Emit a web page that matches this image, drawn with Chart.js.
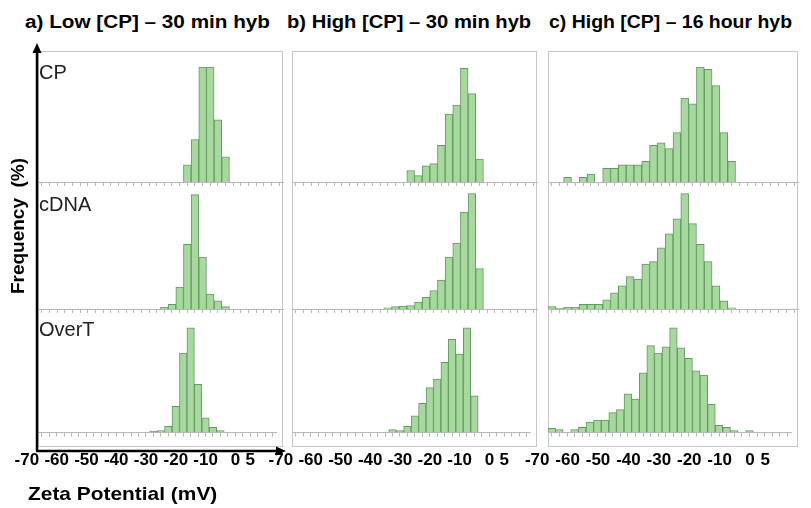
<!DOCTYPE html>
<html lang="en">
<head>
  <meta charset="UTF-8">
  <meta name="viewport" content="width=device-width, initial-scale=1.0">
  <title>Zeta Potential Histograms</title>
  <script src="https://cdn.jsdelivr.net/npm/chart.js"></script>
  <style>
    body {
      margin: 0;
      background-color: #fff;
      font-family: "Liberation Sans", Arial, sans-serif;
    }

    #wrap {
      position: relative;
      width: 811px;
      height: 508px;
      overflow: hidden;
    }

    .title {
      position: absolute;
      top: 12px;
      font-size: 18px;
      font-weight: bold;
      white-space: nowrap;
      transform-origin: left top;
    }

    .frame {
      position: absolute;
      top: 51px;
      height: 396px;
      border: 1px solid #c8c8c8;
      box-sizing: border-box;
    }

    canvas {
      position: absolute;
    }

    .row-label {
      position: absolute;
      left: 39px;
      font-size: 20px;
      color: #222;
      white-space: nowrap;
    }

    #ylabel {
      position: absolute;
      left: 18px;
      top: 226px;
      font-size: 19px;
      font-weight: bold;
      white-space: nowrap;
      transform: translate(-50%, -50%) rotate(-90deg);
    }

    #xlabel {
      position: absolute;
      left: 28px;
      top: 483px;
      font-size: 19px;
      font-weight: bold;
      white-space: nowrap;
      transform-origin: left top;
      transform: scaleX(1.1);
    }

    svg {
      position: absolute;
      left: 0;
      top: 0;
    }
  </style>
</head>
<body>
  <div id="wrap">
    <div class="title" style="left:25px; transform:scaleX(1.15)">a) Low [CP] – 30 min hyb</div>
    <div class="title" style="left:287px; transform:scaleX(1.12)">b) High [CP] – 30 min hyb</div>
    <div class="title" style="left:549px; transform:scaleX(1.08)">c) High [CP] – 16 hour hyb</div>

    <div class="frame" style="left:38px; width:245px"></div>
    <div class="frame" style="left:292px; width:245px"></div>
    <div class="frame" style="left:548px; width:250px"></div>

    <div id="charts"></div>

    <div class="row-label" style="top:61px">CP</div>
    <div class="row-label" style="top:193px">cDNA</div>
    <div class="row-label" style="top:318px">OverT</div>

    <div id="ylabel">Frequency&nbsp; (%)</div>
    <div id="xlabel">Zeta Potential (mV)</div>

    <!-- axis arrows -->
    <svg width="811" height="508">
      <line x1="37" y1="451" x2="37" y2="52" stroke="#000" stroke-width="2.5"/>
      <polygon points="37,43 32.5,53 41.5,53" fill="#000"/>
      <line x1="36" y1="451" x2="276" y2="451" stroke="#000" stroke-width="2.5"/>
      <polygon points="286,451 276,446.5 276,455.5" fill="#000"/>
    </svg>
  </div>

  <script>
    // bin centres, 2.5 mV bins from -75 to 5 mV
    const binCenters = [
      -73.75, -71.25, -68.75, -66.25, -63.75, -61.25, -58.75, -56.25, -53.75, -51.25,
      -48.75, -46.25, -43.75, -41.25, -38.75, -36.25, -33.75, -31.25, -28.75, -26.25,
      -23.75, -21.25, -18.75, -16.25, -13.75, -11.25, -8.75, -6.25, -3.75, -1.25,
      1.25, 3.75
    ];

    // a) Low [CP] - 30 min hyb (frequency, % of peak bin)
    const aCP = [
      0, 0, 0, 0, 0, 0, 0, 0, 0, 0,
      0, 0, 0, 0, 0, 0, 0, 0, 0, 15,
      37, 100, 100, 54, 22, 0, 0, 0, 0, 0,
      0, 0
    ];
    const aCDNA = [
      0, 0, 0, 0, 0, 0, 0, 0, 0, 0,
      0, 0, 0, 0, 0, 0, 1.5, 4, 19, 56,
      99, 45, 13, 7, 2, 0, 0, 0, 0, 0,
      0, 0
    ];
    const aOverT = [
      0, 0, 0, 0, 0, 0, 0, 0, 0, 0,
      0, 0, 0, 0, 0, 1.5, 2, 6, 25, 76,
      100, 46, 14, 5, 2, 0, 0, 0, 0, 0,
      0, 0
    ];

    // b) High [CP] - 30 min hyb
    const bCP = [
      0, 0, 0, 0, 0, 0, 0, 0, 0, 0,
      0, 0, 0, 0, 0, 10, 5.5, 14, 16, 32,
      59, 67, 99, 77, 20, 0, 0, 0, 0, 0,
      0, 0
    ];
    const bCDNA = [
      0, 0, 0, 0, 0, 0, 0, 0, 0, 0,
      0, 0, 1, 2, 2.5, 3, 6, 10, 16, 25,
      45, 57, 84, 100, 35, 0, 0, 0, 0, 0,
      0, 0
    ];
    const bOverT = [
      0, 0, 0, 0, 0, 0, 0, 0, 0, 0,
      0, 0, 0, 3, 2, 6, 16, 28, 43, 51,
      67, 89, 75, 100, 35, 0, 0, 0, 0, 0,
      0, 0
    ];

    // c) High [CP] - 16 hour hyb
    const cCP = [
      0, 0, 4, 0, 4, 7, 0, 12, 12, 15,
      15, 15, 18, 32, 34, 29, 43, 73, 68, 100,
      98, 84, 43, 18, 0, 0, 0, 0, 0, 0,
      0, 0
    ];
    const cCDNA = [
      2, 0.6, 1.5, 1.5, 4, 4, 4, 8, 14, 20,
      28, 26, 39, 41, 53, 65, 78, 100, 74, 56,
      41, 20, 7, 1, 0, 0, 0, 0, 0, 0,
      0, 0
    ];
    const cOverT = [
      4, 3, 0, 3, 5, 10, 12, 12, 19, 22,
      37, 32, 57, 83, 76, 82, 100, 81, 71, 59,
      55, 27, 7, 5, 2, 0, 2, 0, 0, 0,
      0, 0
    ];

    // x tick labels shown under the bottom row
    const tickLabels = [-70, -60, -50, -40, -30, -20, -10, 0, 5];

    // panel layout
    const columns = [
      { left: 38, width: 245, series: [aCP, aCDNA, aOverT] },
      { left: 292, width: 245, series: [bCP, bCDNA, bOverT] },
      { left: 548, width: 250, series: [cCP, cCDNA, cOverT] }
    ];
    const rows = [
      { top: 51, height: 131, yMax: 114 },
      { top: 182, height: 127, yMax: 110 },
      { top: 309, height: 137, yMax: 118 }
    ];

    const padLeft = 25;
    const padRight = 12;
    const holder = document.getElementById("charts");

    columns.forEach((col) => {
      rows.forEach((row, r) => {
        const last = r === rows.length - 1;
        const canvas = document.createElement("canvas");
        canvas.width = col.width + padLeft + padRight;
        canvas.height = row.height + (last ? 39 : 4);
        canvas.style.left = (col.left - padLeft) + "px";
        canvas.style.top = row.top + "px";
        holder.appendChild(canvas);

        const values = col.series[r];

        new Chart(canvas, {
          type: "bar",
          data: {
            datasets: [{
              data: binCenters.map((x, i) => ({ x: x, y: values[i] })),
              backgroundColor: "#a7d99f",
              borderColor: "#649862",
              borderWidth: 1,
              barPercentage: 1,
              categoryPercentage: 1
            }]
          },
          options: {
            responsive: false,
            animation: false,
            events: [],
            layout: { padding: { left: padLeft, right: padRight, top: 0, bottom: 0 } },
            plugins: {
              legend: { display: false },
              tooltip: { enabled: false }
            },
            scales: {
              x: {
                type: "linear",
                min: -75,
                max: 5,
                offset: false,
                grid: {
                  drawOnChartArea: false,
                  drawTicks: true,
                  tickLength: 4,
                  color: "#b8b8b8"
                },
                border: { color: "#b8b8b8", width: 1 },
                ticks: {
                  display: last,
                  stepSize: 2.5,
                  autoSkip: false,
                  maxRotation: 0,
                  minRotation: 0,
                  labelOffset: -26,
                  padding: 14,
                  color: "#000",
                  font: { family: "'Liberation Sans', Arial, sans-serif", size: 17, weight: "bold" },
                  callback: (v) => tickLabels.includes(v) ? String(v) : ""
                }
              },
              y: {
                display: false,
                min: 0,
                max: row.yMax
              }
            }
          }
        });
      });
    });
  </script>
</body>
</html>
